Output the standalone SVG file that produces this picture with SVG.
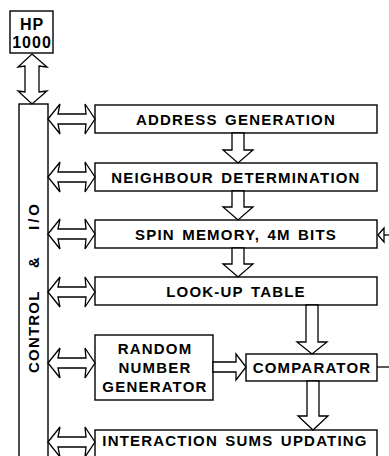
<svg xmlns="http://www.w3.org/2000/svg" width="389" height="456" viewBox="0 0 389 456">
<style>
.box{fill:#fff;stroke:#000;stroke-width:1.4}
.arr{fill:#fff;stroke:#000;stroke-width:1.3;stroke-linejoin:miter}
.ln{fill:none;stroke:#000;stroke-width:1.3}
.t{font-family:"Liberation Sans",Arial,Helvetica,sans-serif;font-weight:bold;font-size:15px;letter-spacing:1.2px;word-spacing:2px;fill:#000;text-anchor:middle}
.hp{font-size:16px;letter-spacing:1px}
</style>
<rect width="389" height="456" fill="#fff"/>
<g id="hp1000">
<rect class="box" x="10" y="11" width="43" height="42"/>
<text class="t hp" x="32" y="30">HP</text>
<text class="t hp" x="32" y="48">1000</text>
</g>
<g id="control">
<rect class="box" x="19" y="104" width="29" height="370"/>
<text class="t" transform="translate(39,373) rotate(-90)" style="text-anchor:start"><tspan x="0">CONTROL</tspan><tspan x="105">&amp;</tspan><tspan x="143" style="letter-spacing:3px">I/O</tspan></text>
</g>
<g id="address">
<rect class="box" x="95" y="105" width="282" height="28"/>
<text class="t" x="236" y="124.5">ADDRESS GENERATION</text>
</g>
<g id="neighbour">
<rect class="box" x="95" y="163" width="282" height="28"/>
<text class="t" x="236" y="182.5">NEIGHBOUR DETERMINATION</text>
</g>
<g id="spin">
<rect class="box" x="95" y="220" width="282" height="28"/>
<text class="t" x="236" y="239.5">SPIN MEMORY, 4M BITS</text>
</g>
<g id="lookup">
<rect class="box" x="95" y="277" width="282" height="28"/>
<text class="t" x="236" y="296.5">LOOK-UP TABLE</text>
</g>
<g id="rng">
<rect class="box" x="95" y="335" width="118" height="65"/>
<text class="t" x="155" y="354">RANDOM</text>
<text class="t" x="155" y="373">NUMBER</text>
<text class="t" x="155" y="392">GENERATOR</text>
</g>
<g id="comparator">
<rect class="box" x="246" y="354" width="131" height="27"/>
<text class="t" x="312" y="373">COMPARATOR</text>
</g>
<g id="interaction">
<rect class="box" x="95" y="430" width="282" height="40"/>
<text class="t" x="235" y="446">INTERACTION SUMS UPDATING</text>
</g>
<g id="connectors">
<polygon class="arr" points="32,54 47,67 39,66 39,92 47,91 32,104 18,91 25,92 25,66 18,67"/>
<polygon class="arr" points="48,119 60,104 58,114 86,114 85,104 95,119 85,134 86,124 58,124 60,134"/>
<polygon class="arr" points="48,177 60,162 58,172 86,172 85,162 95,177 85,192 86,182 58,182 60,192"/>
<polygon class="arr" points="48,234 60,219 58,229 86,229 85,219 95,234 85,249 86,239 58,239 60,249"/>
<polygon class="arr" points="48,292 60,277 58,287 86,287 85,277 95,292 85,307 86,297 58,297 60,307"/>
<polygon class="arr" points="48,363 60,348 58,358 86,358 85,348 95,363 85,378 86,368 58,368 60,378"/>
<polygon class="arr" points="48,442 60,427 58,437 86,437 85,427 95,442 85,457 86,447 58,447 60,457"/>
<polygon class="arr" points="232,133 244,133 244,150 253,150 238,163 223,150 232,150"/>
<polygon class="arr" points="232,191 244,191 244,207 253,207 238,220 223,207 232,207"/>
<polygon class="arr" points="232,248 244,248 244,264 253,264 238,277 223,264 232,264"/>
<polygon class="arr" points="306,305 318,305 318,342 327,342 312,354 297,342 306,342"/>
<polygon class="arr" points="307,381 319,381 319,416 328,416 313,430 298,416 307,416"/>
<polygon class="arr" points="213,362 236,362 236,354 246,367 236,380 236,372 213,372"/>
<polygon class="arr" points="378,235 384,228 384,242"/>
<line class="ln" x1="384" y1="235" x2="389" y2="235"/>
<line class="ln" x1="377" y1="367" x2="389" y2="367"/>
</g>
</svg>
